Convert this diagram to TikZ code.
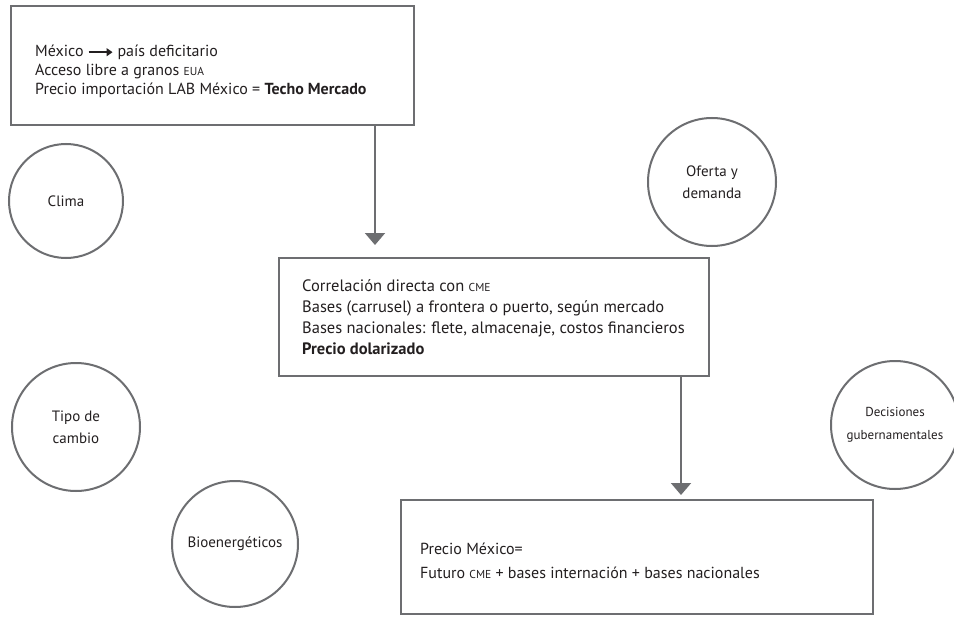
\documentclass[tikz,border=0pt]{standalone}
\usepackage{fontspec}
\setmainfont{PT Sans}
\usetikzlibrary{arrows.meta}
\definecolor{lgray}{HTML}{6D6E71}
\definecolor{txt}{HTML}{231F20}
\newcommand\smc[1]{{\fontsize{11.5}{11.5}\selectfont #1}}
\newcommand\rarr{\tikz[baseline=-0.6ex]\draw[txt,line width=1.4pt,-{Triangle[length=6pt,width=8pt]}](0,0)--(24pt,0);}
\begin{document}
\begin{tikzpicture}[x=1pt,y=-1pt,
  boxst/.style={draw=lgray,line width=2pt,anchor=north west,inner sep=0pt},
  circst/.style={draw=lgray,line width=2pt,circle,inner sep=0pt,align=center,text=txt,font=\fontsize{15}{22}\selectfont},
  txtst/.style={anchor=base west,inner sep=0pt,text=txt,font=\fontsize{16}{19}\selectfont},
  arr/.style={draw=lgray,line width=2pt,-{Triangle[length=12pt,width=20pt]}}]
\useasboundingbox (0,0) rectangle (954,618);
\fill[white] (0,0) rectangle (954,618);
% boxes
\node[boxst,minimum width=403pt,minimum height=119pt] (b1) at (10,5) {};
\node[boxst,minimum width=430pt,minimum height=118pt] (b2) at (278,257) {};
\node[boxst,minimum width=472pt,minimum height=114pt] (b3) at (400,499) {};
% box texts
\node[txtst] (t1a) at (35,57) {México \rarr{} país deficitario};
\node[txtst] (t1b) at (35,76) {Acceso libre a granos \smc{EUA}};
\node[txtst] (t1c) at (35,95) {Precio importación LAB México = \textbf{Techo Mercado}};
\begin{scope}[txtst/.append style={font=\fontsize{16.5}{19}\selectfont}]
\node[txtst] (t2a) at (302,291) {Correlación directa con \smc{CME}};
\node[txtst] (t2b) at (302,312) {Bases (carrusel) a frontera o puerto, según mercado};
\node[txtst] (t2c) at (302,333) {Bases nacionales: flete, almacenaje, costos financieros};
\node[txtst] (t2d) at (302,354) {\textbf{Precio dolarizado}};
\end{scope}
\node[txtst] (t3a) at (420,554) {Precio México=};
\node[txtst] (t3b) at (420,578) {Futuro \smc{CME} + bases internación + bases nacionales};
% arrows
\coordinate (a1) at (375,0);
\coordinate (a2) at (681,0);
\draw[arr,shorten >=12pt] (b1.south -| a1) -- (b2.north -| a1);
\draw[arr,shorten >=4pt] (b2.south -| a2) -- (b3.north -| a2);
% circles
\node[circst,minimum size=114pt] (clima) at (66,201) {Clima};
\node[circst,minimum size=128pt] (oferta) at (712,182) {Oferta y\\demanda};
\node[circst,minimum size=128pt] (tipo) at (76,427) {Tipo de\\cambio};
\node[circst,minimum size=126pt] (bio) at (235,544) {Bioenergéticos};
\node[circst,minimum size=128pt,font=\fontsize{13}{23}\selectfont] (dec) at (895,425) {Decisiones\\gubernamentales};
\end{tikzpicture}
\end{document}
